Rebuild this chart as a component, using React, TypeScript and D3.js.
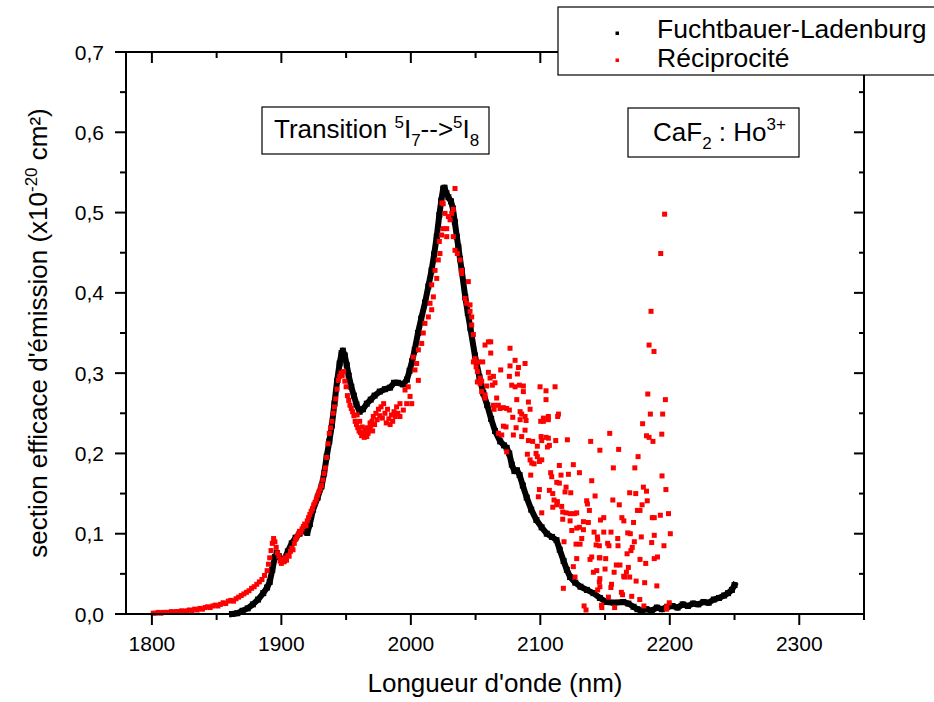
import React from "react";
import * as d3 from "d3";

// ---------- data ----------
const xTickValues = [1800, 1900, 2000, 2100, 2200, 2300];
const xMinorTickValues = [1850, 1950, 2050, 2150, 2250, 2350];
const yTickValues = [0, 0.1, 0.2, 0.3, 0.4, 0.5, 0.6, 0.7];
const yMinorTickValues = [0.05, 0.15, 0.25, 0.35, 0.45, 0.55, 0.65];
const seriesNames = ["Fuchtbauer-Ladenburg", "Réciprocité"];

// Fuchtbauer-Ladenburg (wavelength nm, cross-section 1e-20 cm²)
const fuchtbauer: [number, number][] = [
  [1862, 0.0], [1866, 0.001], [1870, 0.004], [1874, 0.007], [1878, 0.012], [1882, 0.018],
  [1886, 0.026], [1889, 0.033], [1891, 0.04], [1893, 0.055], [1895, 0.071], [1896.5, 0.076],
  [1898, 0.072], [1900, 0.068], [1902, 0.067], [1905, 0.078], [1908, 0.088], [1911, 0.095],
  [1914, 0.1], [1917, 0.104], [1920, 0.101], [1922, 0.112], [1924.5, 0.13], [1928, 0.145],
  [1931, 0.159], [1933, 0.175], [1935, 0.196], [1937, 0.215], [1939, 0.235], [1941, 0.262],
  [1943, 0.29], [1945, 0.312], [1946.5, 0.325], [1947.5, 0.328], [1949, 0.322], [1950.5, 0.31],
  [1952, 0.297], [1954, 0.283], [1956, 0.272], [1958, 0.261], [1960.5, 0.252], [1963, 0.255],
  [1966, 0.262], [1969, 0.267], [1972, 0.272], [1976, 0.277], [1980, 0.28], [1984, 0.282],
  [1987, 0.288], [1990, 0.288], [1994, 0.286], [1997, 0.292], [1999, 0.303], [2001, 0.315],
  [2003, 0.329], [2005.5, 0.35], [2008, 0.368], [2011, 0.388], [2013.5, 0.408], [2016, 0.428],
  [2018, 0.448], [2020, 0.47], [2022, 0.497], [2023.5, 0.515], [2025, 0.53], [2026, 0.531],
  [2027.5, 0.524], [2029, 0.519], [2031, 0.514], [2032.5, 0.505], [2034, 0.488], [2035.5, 0.47],
  [2036.7, 0.457], [2038, 0.442], [2039.3, 0.428], [2042, 0.395], [2044, 0.375], [2046, 0.356],
  [2049.5, 0.322], [2053, 0.295], [2056, 0.275], [2059, 0.26], [2062, 0.243], [2065, 0.228],
  [2069, 0.215], [2072, 0.21], [2074, 0.207], [2076, 0.2], [2078, 0.186], [2080, 0.178],
  [2082, 0.179], [2084, 0.173], [2086.5, 0.16], [2089.5, 0.145], [2093, 0.13], [2097, 0.117],
  [2101, 0.108], [2105, 0.1], [2109, 0.096], [2112.5, 0.092], [2115, 0.08], [2118, 0.066],
  [2120.5, 0.055], [2123, 0.046], [2127, 0.039], [2131, 0.034], [2136, 0.03], [2141, 0.026],
  [2146, 0.02], [2151, 0.015], [2157, 0.014], [2164, 0.015], [2168, 0.013], [2172, 0.009],
  [2175, 0.006], [2178, 0.004], [2182, 0.006], [2186, 0.004], [2190, 0.008], [2194, 0.006],
  [2198, 0.009], [2202, 0.01], [2206, 0.008], [2210, 0.012], [2214, 0.01], [2218, 0.013],
  [2222, 0.012], [2226, 0.015], [2230, 0.014], [2234, 0.018], [2238, 0.02], [2242, 0.023],
  [2245, 0.026], [2248, 0.03], [2250, 0.036],
];

// Réciprocité (wavelength nm, cross-section 1e-20 cm²)
const reciprocite: [number, number][] = [
  [1801, 0.001], [1803, 0.001], [1805, 0.002], [1807, 0.001], [1809, 0.002], [1811, 0.002],
  [1813, 0.002], [1815, 0.003], [1817, 0.002], [1819, 0.003], [1821, 0.003], [1823, 0.004],
  [1825, 0.003], [1827, 0.004], [1829, 0.005], [1831, 0.004], [1833, 0.006], [1835, 0.005],
  [1837, 0.007], [1839, 0.006], [1841, 0.008], [1843, 0.009], [1845, 0.008], [1847, 0.01],
  [1849, 0.011], [1851, 0.01], [1853, 0.012], [1855, 0.014], [1857, 0.013], [1859, 0.016],
  [1861, 0.017], [1863, 0.016], [1865, 0.019], [1867, 0.021], [1869, 0.023], [1871, 0.025],
  [1873, 0.027], [1875, 0.029], [1877, 0.032], [1879, 0.034], [1881, 0.037], [1883, 0.04],
  [1885, 0.043], [1887, 0.048], [1889, 0.054], [1890, 0.062], [1891, 0.07], [1892, 0.079],
  [1893, 0.088], [1894, 0.094], [1895, 0.09], [1896, 0.083], [1897, 0.076], [1898, 0.072],
  [1899, 0.066], [1900, 0.063], [1901, 0.068], [1902, 0.065], [1903, 0.07], [1904, 0.067],
  [1905, 0.073], [1906, 0.072], [1907, 0.078], [1908, 0.082], [1909, 0.08], [1910, 0.088],
  [1911, 0.093], [1912, 0.096], [1913, 0.099], [1914, 0.103], [1915, 0.101], [1916, 0.106],
  [1917, 0.109], [1918, 0.112], [1919, 0.11], [1920, 0.116], [1921, 0.12], [1922, 0.124],
  [1923, 0.128], [1924, 0.131], [1925, 0.136], [1926, 0.139], [1927, 0.143], [1928, 0.148],
  [1929, 0.152], [1930, 0.156], [1931, 0.16], [1932, 0.167], [1933, 0.175], [1934, 0.182],
  [1935, 0.195], [1936, 0.212], [1937, 0.225], [1938, 0.232], [1939, 0.24], [1940, 0.25],
  [1941, 0.258], [1942, 0.268], [1943, 0.28], [1944, 0.291], [1945, 0.296], [1946, 0.3],
  [1947, 0.297], [1948, 0.302], [1949, 0.29], [1950, 0.283], [1951, 0.272], [1952, 0.266],
  [1953, 0.26], [1954, 0.256], [1955, 0.252], [1956, 0.247], [1957, 0.24], [1958, 0.236],
  [1958.5, 0.248], [1959, 0.232], [1960, 0.228], [1960.5, 0.24], [1961, 0.226], [1962, 0.222],
  [1962.5, 0.233], [1963, 0.225], [1964, 0.22], [1964.5, 0.23], [1965, 0.224], [1966, 0.221],
  [1966.5, 0.232], [1967, 0.225], [1968, 0.229], [1968.5, 0.238], [1969, 0.234], [1970, 0.24],
  [1970.5, 0.228], [1971, 0.246], [1972, 0.236], [1973, 0.25], [1974, 0.242], [1975, 0.255],
  [1976, 0.247], [1977, 0.258], [1978, 0.244], [1979, 0.262], [1980, 0.25], [1981, 0.238],
  [1982, 0.255], [1983, 0.243], [1984, 0.236], [1985, 0.248], [1986, 0.24], [1987, 0.252],
  [1988, 0.246], [1989, 0.258], [1990, 0.25],
  [1991.6, 0.246], [1994.2, 0.254], [1996.8, 0.262], [1999.4, 0.271], [1995.5, 0.279],
  [2000.7, 0.262], [1998, 0.283], [2003.2, 0.304], [2005.8, 0.291], [2004.5, 0.312],
  [1991.6, 0.262], [2001.9, 0.32], [2005.8, 0.329], [2008.4, 0.337], [2009.6, 0.35],
  [2010.9, 0.362], [2013.5, 0.37], [2016.1, 0.379], [2014.8, 0.387], [2017.4, 0.395],
  [2016.1, 0.41], [2020, 0.418], [2018.7, 0.428], [2021.2, 0.441], [2022.5, 0.449],
  [2022, 0.464], [2023.8, 0.472], [2025, 0.48], [2027.7, 0.48], [2026.4, 0.499], [2025, 0.511],
  [2024, 0.512], [2029, 0.495], [2030.3, 0.491], [2031.6, 0.499], [2032.8, 0.504],
  [2027.7, 0.47], [2032.8, 0.47], [2034.1, 0.53], [2034.1, 0.453], [2035.9, 0.449],
  [2038, 0.441], [2039.3, 0.428], [2039.3, 0.424], [2044.4, 0.414], [2041.8, 0.393],
  [2043.1, 0.387], [2045.7, 0.385], [2045.7, 0.377], [2047, 0.37],
  [2047, 0.36], [2048.3, 0.348], [2057.3, 0.335], [2059.9, 0.339], [2061.7, 0.339],
  [2076.6, 0.331], [2061.7, 0.325], [2049.6, 0.318], [2048.3, 0.314], [2052.2, 0.314],
  [2055.5, 0.314], [2080.5, 0.316], [2088.2, 0.312], [2050.4, 0.308], [2076.6, 0.309],
  [2083.1, 0.307], [2051.4, 0.302], [2059.9, 0.301], [2069.4, 0.304], [2082.3, 0.299],
  [2063.8, 0.296], [2076.1, 0.296], [2053.5, 0.294], [2061.2, 0.294], [2051.4, 0.289],
  [2054.7, 0.29], [2053.5, 0.287], [2065, 0.288], [2058.6, 0.284], [2063, 0.285],
  [2077.9, 0.285], [2080.5, 0.283], [2083.8, 0.285], [2086.9, 0.284], [2099.8, 0.283],
  [2111.4, 0.283], [2054.7, 0.277], [2057.3, 0.273], [2086.9, 0.277], [2104.4, 0.278],
  [2066.3, 0.269], [2057.3, 0.269], [2081.8, 0.267], [2090.8, 0.264], [2104.4, 0.267],
  [2063.8, 0.26], [2067.6, 0.26], [2068.9, 0.256], [2071.5, 0.257], [2074, 0.256],
  [2064.3, 0.255], [2076.1, 0.254], [2092.1, 0.255], [2084.4, 0.252], [2088.2, 0.246],
  [2085.6, 0.249], [2102.4, 0.244], [2106.2, 0.246], [2114, 0.249], [2113.4, 0.246],
  [2078.7, 0.245], [2084.4, 0.242], [2102.4, 0.24], [2089, 0.241], [2100.3, 0.24],
  [2106.2, 0.242], [2071.5, 0.234], [2073.5, 0.233], [2081.3, 0.232], [2088.2, 0.229],
  [2067.6, 0.225], [2070.2, 0.223], [2079.2, 0.223], [2085.6, 0.221], [2100.6, 0.221],
  [2104.4, 0.22], [2106.2, 0.219], [2090.8, 0.216], [2094.1, 0.215], [2101.1, 0.216],
  [2111.9, 0.216], [2120.9, 0.217], [2138.9, 0.215], [2097.7, 0.209], [2105.5, 0.208],
  [2107, 0.21], [2074, 0.202], [2090, 0.199], [2096.7, 0.2], [2101.1, 0.192], [2097.7, 0.196],
  [2092.1, 0.192], [2093.4, 0.188], [2095.2, 0.187], [2099.3, 0.19], [2114.7, 0.185],
  [2125.5, 0.186], [2108, 0.176], [2116, 0.173], [2121.7, 0.174], [2130.2, 0.176],
  [2092.6, 0.173], [2108.8, 0.171], [2139.7, 0.166], [2112.7, 0.164], [2114.7, 0.163],
  [2119.9, 0.158], [2107, 0.154], [2099.3, 0.155], [2109.6, 0.15], [2123.5, 0.151],
  [2119.1, 0.152], [2142.3, 0.147], [2098.5, 0.146], [2110.6, 0.142], [2113.2, 0.14],
  [2135.8, 0.141], [2136.4, 0.137], [2112.7, 0.136], [2109.6, 0.133], [2116.5, 0.134],
  [2117.3, 0.127], [2119.9, 0.126], [2123, 0.125], [2126.3, 0.125], [2128.1, 0.126],
  [2101.1, 0.126], [2137.9, 0.129], [2117.3, 0.118], [2123, 0.116], [2133.3, 0.115],
  [2137.1, 0.114], [2124.3, 0.104], [2128.1, 0.107], [2130.2, 0.108], [2133.3, 0.105],
  [2141.5, 0.102], [2132, 0.094], [2144.1, 0.096], [2144.3, 0.093], [2118.3, 0.09],
  [2127.6, 0.087], [2130.7, 0.087], [2143.1, 0.086], [2145.6, 0.085], [2139.7, 0.071],
  [2138.4, 0.068], [2145.6, 0.07], [2128.1, 0.069], [2125.5, 0.059], [2141, 0.052],
  [2143.6, 0.054], [2126.8, 0.046], [2145.6, 0.04], [2117.8, 0.032], [2144.3, 0.03],
  [2133.8, 0.01], [2135.3, 0.005],
  [2196, 0.498], [2193, 0.449], [2185.5, 0.377], [2184, 0.335], [2187.8, 0.327], [2183, 0.274],
  [2196.6, 0.267], [2185, 0.249], [2194.5, 0.249], [2179, 0.237], [2182, 0.222], [2184, 0.22],
  [2187, 0.215], [2193.8, 0.224], [2153.6, 0.225], [2160.5, 0.205], [2146, 0.204],
  [2175.5, 0.196], [2156.4, 0.182], [2173, 0.182], [2194, 0.172], [2179.6, 0.158],
  [2197, 0.155], [2169, 0.151], [2173.7, 0.15], [2182, 0.153], [2156, 0.142], [2161, 0.136],
  [2182.6, 0.141], [2178.6, 0.136], [2175, 0.129], [2177, 0.129], [2186.5, 0.12],
  [2188, 0.12], [2192.7, 0.123], [2199, 0.125], [2163, 0.12], [2164.5, 0.116], [2172, 0.114],
  [2149, 0.12], [2146.5, 0.117], [2154.6, 0.102], [2149, 0.102], [2167.5, 0.101],
  [2169.5, 0.1], [2178, 0.096], [2188, 0.098], [2200.4, 0.1], [2152, 0.088], [2153, 0.085],
  [2159.8, 0.094], [2160, 0.085], [2172.6, 0.09], [2171, 0.083], [2170, 0.079], [2186, 0.089],
  [2195.5, 0.085], [2167, 0.075], [2150.5, 0.069], [2177, 0.068], [2181.4, 0.063],
  [2190.5, 0.071], [2188, 0.069], [2146, 0.07], [2158.7, 0.061], [2161.5, 0.061],
  [2168, 0.058], [2150, 0.056], [2157, 0.052], [2166.5, 0.052], [2164.4, 0.047],
  [2165, 0.046], [2169, 0.046], [2174, 0.041], [2180.6, 0.039], [2190, 0.035], [2155, 0.037],
  [2154.5, 0.033], [2146, 0.044], [2146, 0.034], [2162.6, 0.027], [2163.5, 0.024],
  [2152.6, 0.021], [2170.6, 0.022], [2176.8, 0.018], [2180, 0.01], [2199.6, 0.014],
  [2197.6, 0.009], [2197.6, 0.006], [2157.4, 0.008], [2147.5, 0.008], [2147.3, 0.011],
];

// ---------- layout ----------
const W = 934;
const H = 702;
const M = { left: 126, right: 864, top: 52, bottom: 614 };
const FONT = "Arial, 'Liberation Sans', sans-serif";

export default function App() {
  const x = d3.scaleLinear().domain([1780, 2350]).range([M.left, M.right]);
  const y = d3.scaleLinear().domain([0, 0.7]).range([M.bottom, M.top]);
  const fmtY = (v: number) => d3.format(".1f")(v).replace(".", ",");

  const line = d3
    .line<[number, number]>()
    .x((d) => x(d[0]))
    .y((d) => y(d[1]))
    .curve(d3.curveLinear);

  const majorLen = 11;
  const minorLen = 6;
  const ms = 5;

  return (
    <svg
      width={W}
      height={H}
      viewBox={`0 0 ${W} ${H}`}
      style={{ position: "absolute", left: 0, top: 0, background: "#fff" }}
      fontFamily={FONT}
    >
      <rect x={0} y={0} width={W} height={H} fill="#fff" />

      {/* data */}
      <path
        d={line(fuchtbauer) || ""}
        fill="none"
        stroke="#000"
        strokeWidth={6}
        strokeLinejoin="round"
        strokeLinecap="square"
      />
      {fuchtbauer.map((d, i) => (
        <rect key={"fb" + i} x={x(d[0]) - 3} y={y(d[1]) - 3} width={6} height={6} fill="#000" />
      ))}
      {reciprocite.map((d, i) => (
        <rect
          key={"rc" + i}
          x={x(d[0]) - ms / 2}
          y={y(d[1]) - ms / 2}
          width={ms}
          height={ms}
          fill="#ff0000"
        />
      ))}

      {/* frame */}
      <rect
        x={M.left}
        y={M.top}
        width={M.right - M.left}
        height={M.bottom - M.top}
        fill="none"
        stroke="#000"
        strokeWidth={2}
      />

      {/* bottom axis ticks (outward) & top (inward) */}
      {xTickValues.map((t) => (
        <g key={"xt" + t}>
          <line x1={x(t)} x2={x(t)} y1={M.bottom} y2={M.bottom + majorLen} stroke="#000" strokeWidth={2} />
          <line x1={x(t)} x2={x(t)} y1={M.top} y2={M.top + majorLen} stroke="#000" strokeWidth={2} />
          <text x={x(t)} y={651} fontSize={21} textAnchor="middle" fill="#000">
            {t}
          </text>
        </g>
      ))}
      {xMinorTickValues.map((t) => (
        <g key={"xm" + t}>
          <line x1={x(t)} x2={x(t)} y1={M.bottom} y2={M.bottom + minorLen} stroke="#000" strokeWidth={2} />
          <line x1={x(t)} x2={x(t)} y1={M.top} y2={M.top + minorLen} stroke="#000" strokeWidth={2} />
        </g>
      ))}

      {/* left axis ticks (outward) & right (inward) */}
      {yTickValues.map((t) => (
        <g key={"yt" + t}>
          <line x1={M.left - majorLen} x2={M.left} y1={y(t)} y2={y(t)} stroke="#000" strokeWidth={2} />
          <line x1={M.right - 10} x2={M.right} y1={y(t)} y2={y(t)} stroke="#000" strokeWidth={2} />
          <text x={104} y={y(t) + 7.5} fontSize={21} textAnchor="end" fill="#000">
            {fmtY(t)}
          </text>
        </g>
      ))}
      {yMinorTickValues.map((t) => (
        <g key={"ym" + t}>
          <line x1={M.left - minorLen} x2={M.left} y1={y(t)} y2={y(t)} stroke="#000" strokeWidth={2} />
          <line x1={M.right - 5} x2={M.right} y1={y(t)} y2={y(t)} stroke="#000" strokeWidth={2} />
        </g>
      ))}

      {/* axis titles */}
      <text x={(M.left + M.right) / 2} y={692} fontSize={26} textAnchor="middle" fill="#000">
        Longueur d'onde (nm)
      </text>
      <text
        transform={`translate(47, ${(M.top + M.bottom) / 2}) rotate(-90)`}
        fontSize={26}
        textAnchor="middle"
        fill="#000"
      >
        section efficace d'émission (x10
        <tspan dy={-10} fontSize={17}>-20</tspan>
        <tspan dy={10}> cm²)</tspan>
      </text>

      {/* annotation boxes */}
      <rect x={262} y={107} width={227} height={47} fill="#fff" stroke="#000" strokeWidth={1.2} />
      <text x={274} y={138} fontSize={26} fill="#000">
        Transition{" "}
        <tspan dy={-10} fontSize={17}>5</tspan>
        <tspan dy={10}>I</tspan>
        <tspan dy={8} fontSize={17}>7</tspan>
        <tspan dy={-8}>--&gt;</tspan>
        <tspan dy={-10} fontSize={17}>5</tspan>
        <tspan dy={10}>I</tspan>
        <tspan dy={8} fontSize={17}>8</tspan>
      </text>

      <rect x={628} y={108} width={171} height={49} fill="#fff" stroke="#000" strokeWidth={1.2} />
      <text x={653} y={141} fontSize={26} fill="#000">
        CaF
        <tspan dy={8} fontSize={17}>2</tspan>
        <tspan dy={-8}> : Ho</tspan>
        <tspan dy={-11} fontSize={17}>3+</tspan>
      </text>

      {/* legend */}
      <rect x={558} y={7} width={390} height={68} fill="#fff" stroke="#000" strokeWidth={1.2} />
      <rect x={615.5} y={31.5} width={3.5} height={3.5} fill="#000" />
      <text x={657} y={38} fontSize={26.5} fill="#000">
        {seriesNames[0]}
      </text>
      <rect x={615.5} y={58.5} width={3.5} height={3.5} fill="#ff0000" />
      <text x={657} y={67} fontSize={26.5} fill="#000">
        {seriesNames[1]}
      </text>
    </svg>
  );
}
